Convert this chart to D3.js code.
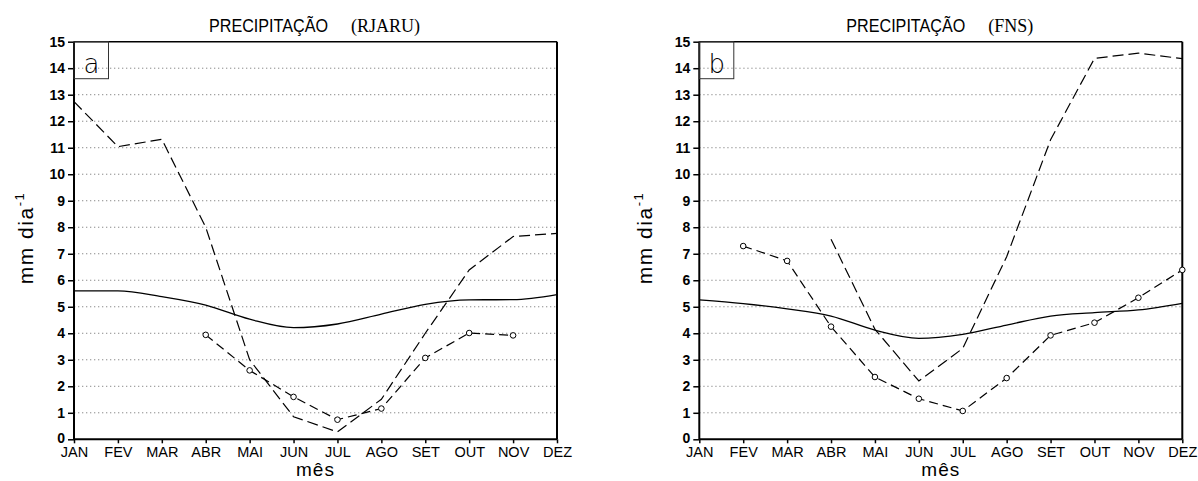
<!DOCTYPE html>
<html>
<head>
<meta charset="utf-8">
<script src="https://cdn.jsdelivr.net/npm/d3@7/dist/d3.min.js"></script>
<style>
  body { margin: 0; background: #fff; }
  svg { display: block; }
  .tick text { font-family: "Liberation Sans", Arial, sans-serif; }
</style>
</head>
<body>
<svg id="mainSvg" width="1198" height="481"></svg>
<script>
// months and y tick values
const months = ["JAN", "FEV", "MAR", "ABR", "MAI", "JUN", "JUL", "AGO", "SET", "OUT", "NOV", "DEZ"];
const yTicks = [0, 1, 2, 3, 4, 5, 6, 7, 8, 9, 10, 11, 12, 13, 14, 15];

// (a) RJARU
const rjaruSolid  = [5.6, 5.6, 5.38, 5.06, 4.53, 4.21, 4.35, 4.72, 5.09, 5.26, 5.27, 5.46];
const rjaruDash   = [12.74, 11.04, 11.32, 8.0, 3.0, 0.85, 0.28, 1.51, 4.0, 6.39, 7.65, 7.77];
const rjaruCircle = [null, null, null, 3.94, 2.6, 1.6, 0.74, 1.16, 3.07, 4.01, 3.92, null];

// (b) FNS
const fnsSolid  = [5.26, 5.12, 4.92, 4.65, 4.12, 3.81, 3.96, 4.31, 4.65, 4.78, 4.88, 5.13];
const fnsDash   = [null, null, null, 7.55, 4.15, 2.2, 3.43, 6.89, 11.3, 14.37, 14.57, 14.36];
const fnsCircle = [null, 7.29, 6.73, 4.25, 2.35, 1.53, 1.07, 2.31, 3.92, 4.4, 5.34, 6.39];

const svg = d3.select("#mainSvg");
const [plotTop, plotBottom] = [41.7, 439.3];

function drawPanel(p){
  const xScale = d3.scalePoint().domain(months).range([p.left, p.right]);
  const yScale = d3.scaleLinear().domain([0, 15]).range([plotBottom, plotTop]);
  const g = svg.append("g");

  // dotted grid
  g.selectAll("line.grid").data(yTicks.filter(d => d > 0 && d < 15)).enter().append("line")
    .attr("class", "grid")
    .attr("x1", p.left).attr("x2", p.right)
    .attr("y1", d => yScale(d)).attr("y2", d => yScale(d))
    .attr("stroke", "#8a8a8a").attr("stroke-width", 1).attr("stroke-dasharray", "1.3,2.7");

  // axes
  const yAxis = d3.axisLeft(yScale).tickValues(yTicks).tickSizeInner(6).tickSizeOuter(0).tickPadding(3);
  const xAxis = d3.axisBottom(xScale).tickSizeInner(4).tickSizeOuter(0).tickPadding(3);
  const ya = g.append("g").attr("transform", `translate(${p.left},0)`).call(yAxis);
  const xa = g.append("g").attr("transform", `translate(0,${plotBottom})`).call(xAxis);
  ya.select(".domain").remove();
  xa.select(".domain").remove();
  ya.selectAll("text").attr("font-size", 14).attr("font-weight", "bold").attr("fill", "#000")
    .attr("dy", d => d === 0 ? "0.2em" : "0.32em");
  xa.selectAll("text").attr("font-size", 14.5).attr("fill", "#000");
  ya.selectAll("line").attr("stroke", "#000").attr("stroke-width", 1.5);
  xa.selectAll("line").attr("stroke", "#000").attr("stroke-width", 1.5);

  // frame
  g.append("line").attr("x1", p.left).attr("x2", p.right).attr("y1", plotTop).attr("y2", plotTop).attr("stroke", "#000").attr("stroke-width", 1.6);
  g.append("line").attr("x1", p.left).attr("x2", p.right).attr("y1", plotBottom).attr("y2", plotBottom).attr("stroke", "#000").attr("stroke-width", 2);
  g.append("line").attr("x1", p.left).attr("x2", p.left).attr("y1", plotTop).attr("y2", plotBottom).attr("stroke", "#000").attr("stroke-width", 2);
  g.append("line").attr("x1", p.right).attr("x2", p.right).attr("y1", plotTop).attr("y2", plotBottom).attr("stroke", "#000").attr("stroke-width", 2);

  // series
  const lineLin = d3.line().defined(d => d[1] !== null).x(d => xScale(d[0])).y(d => yScale(d[1]));
  const lineSmooth = d3.line().x(d => xScale(d[0])).y(d => yScale(d[1])).curve(d3.curveMonotoneX);
  const pair = arr => months.map((m, i) => [m, arr[i]]);

  g.append("path").attr("d", lineSmooth(pair(p.solid))).attr("fill", "none").attr("stroke", "#000").attr("stroke-width", 1.3);
  g.append("path").attr("d", lineLin(pair(p.dash))).attr("fill", "none").attr("stroke", "#000").attr("stroke-width", 1.2).attr("stroke-dasharray", "11,5");
  g.append("path").attr("d", lineLin(pair(p.circle))).attr("fill", "none").attr("stroke", "#000").attr("stroke-width", 1.2).attr("stroke-dasharray", "9,5");
  g.selectAll("circle").data(pair(p.circle).filter(d => d[1] !== null)).enter().append("circle")
    .attr("cx", d => xScale(d[0])).attr("cy", d => yScale(d[1])).attr("r", 2.8)
    .attr("fill", "#fff").attr("stroke", "#000").attr("stroke-width", 1);

  // label box
  g.append("rect").attr("x", p.left).attr("y", plotTop).attr("width", 34.5).attr("height", 37)
    .attr("fill", "none").attr("stroke", "#333").attr("stroke-width", 1);
  g.append("text").attr("x", p.left + 17.5).attr("y", plotTop + 31).attr("text-anchor", "middle")
    .attr("font-family", "'DejaVu Sans', sans-serif").attr("font-weight", 200).attr("font-size", 26).text(p.tag);

  // title
  const cx = (p.left + p.right) / 2;
  const tg = g.append("g");
  tg.append("text").attr("x", 0).attr("y", 31.5).attr("font-family", "'Liberation Sans', Arial, sans-serif")
    .attr("font-size", 17.5).attr("textLength", 119).attr("lengthAdjust", "spacingAndGlyphs").text("PRECIPITAÇÃO");
  const t2 = tg.append("text").attr("x", 142).attr("y", 31.5).attr("font-family", "'Liberation Serif', 'Times New Roman', serif")
    .attr("font-size", 18).text(`(${p.station})`);
  const w = 142 + t2.node().getComputedTextLength();
  tg.attr("transform", `translate(${cx - w / 2 - 1},0)`);

  // axis titles
  g.append("text").attr("x", cx).attr("y", 476).attr("text-anchor", "middle")
    .attr("font-family", "'Liberation Sans', Arial, sans-serif").attr("font-size", 19).attr("letter-spacing", 1).text("mês");
  const yl = g.append("text").attr("transform", `translate(${p.ylabX},238) rotate(-90)`).attr("text-anchor", "middle")
    .attr("font-family", "'Liberation Sans', Arial, sans-serif").attr("font-size", 21).attr("letter-spacing", 1.5);
  yl.append("tspan").text("mm  dia");
  yl.append("tspan").attr("dy", -9).attr("font-size", 13).text("-1");
}

drawPanel({left: 74, right: 557, tag: "a", station: "RJARU", ylabX: 33, solid: rjaruSolid, dash: rjaruDash, circle: rjaruCircle});
drawPanel({left: 699.3, right: 1182.3, tag: "b", station: "FNS", ylabX: 652, solid: fnsSolid, dash: fnsDash, circle: fnsCircle});
</script>
</body>
</html>
